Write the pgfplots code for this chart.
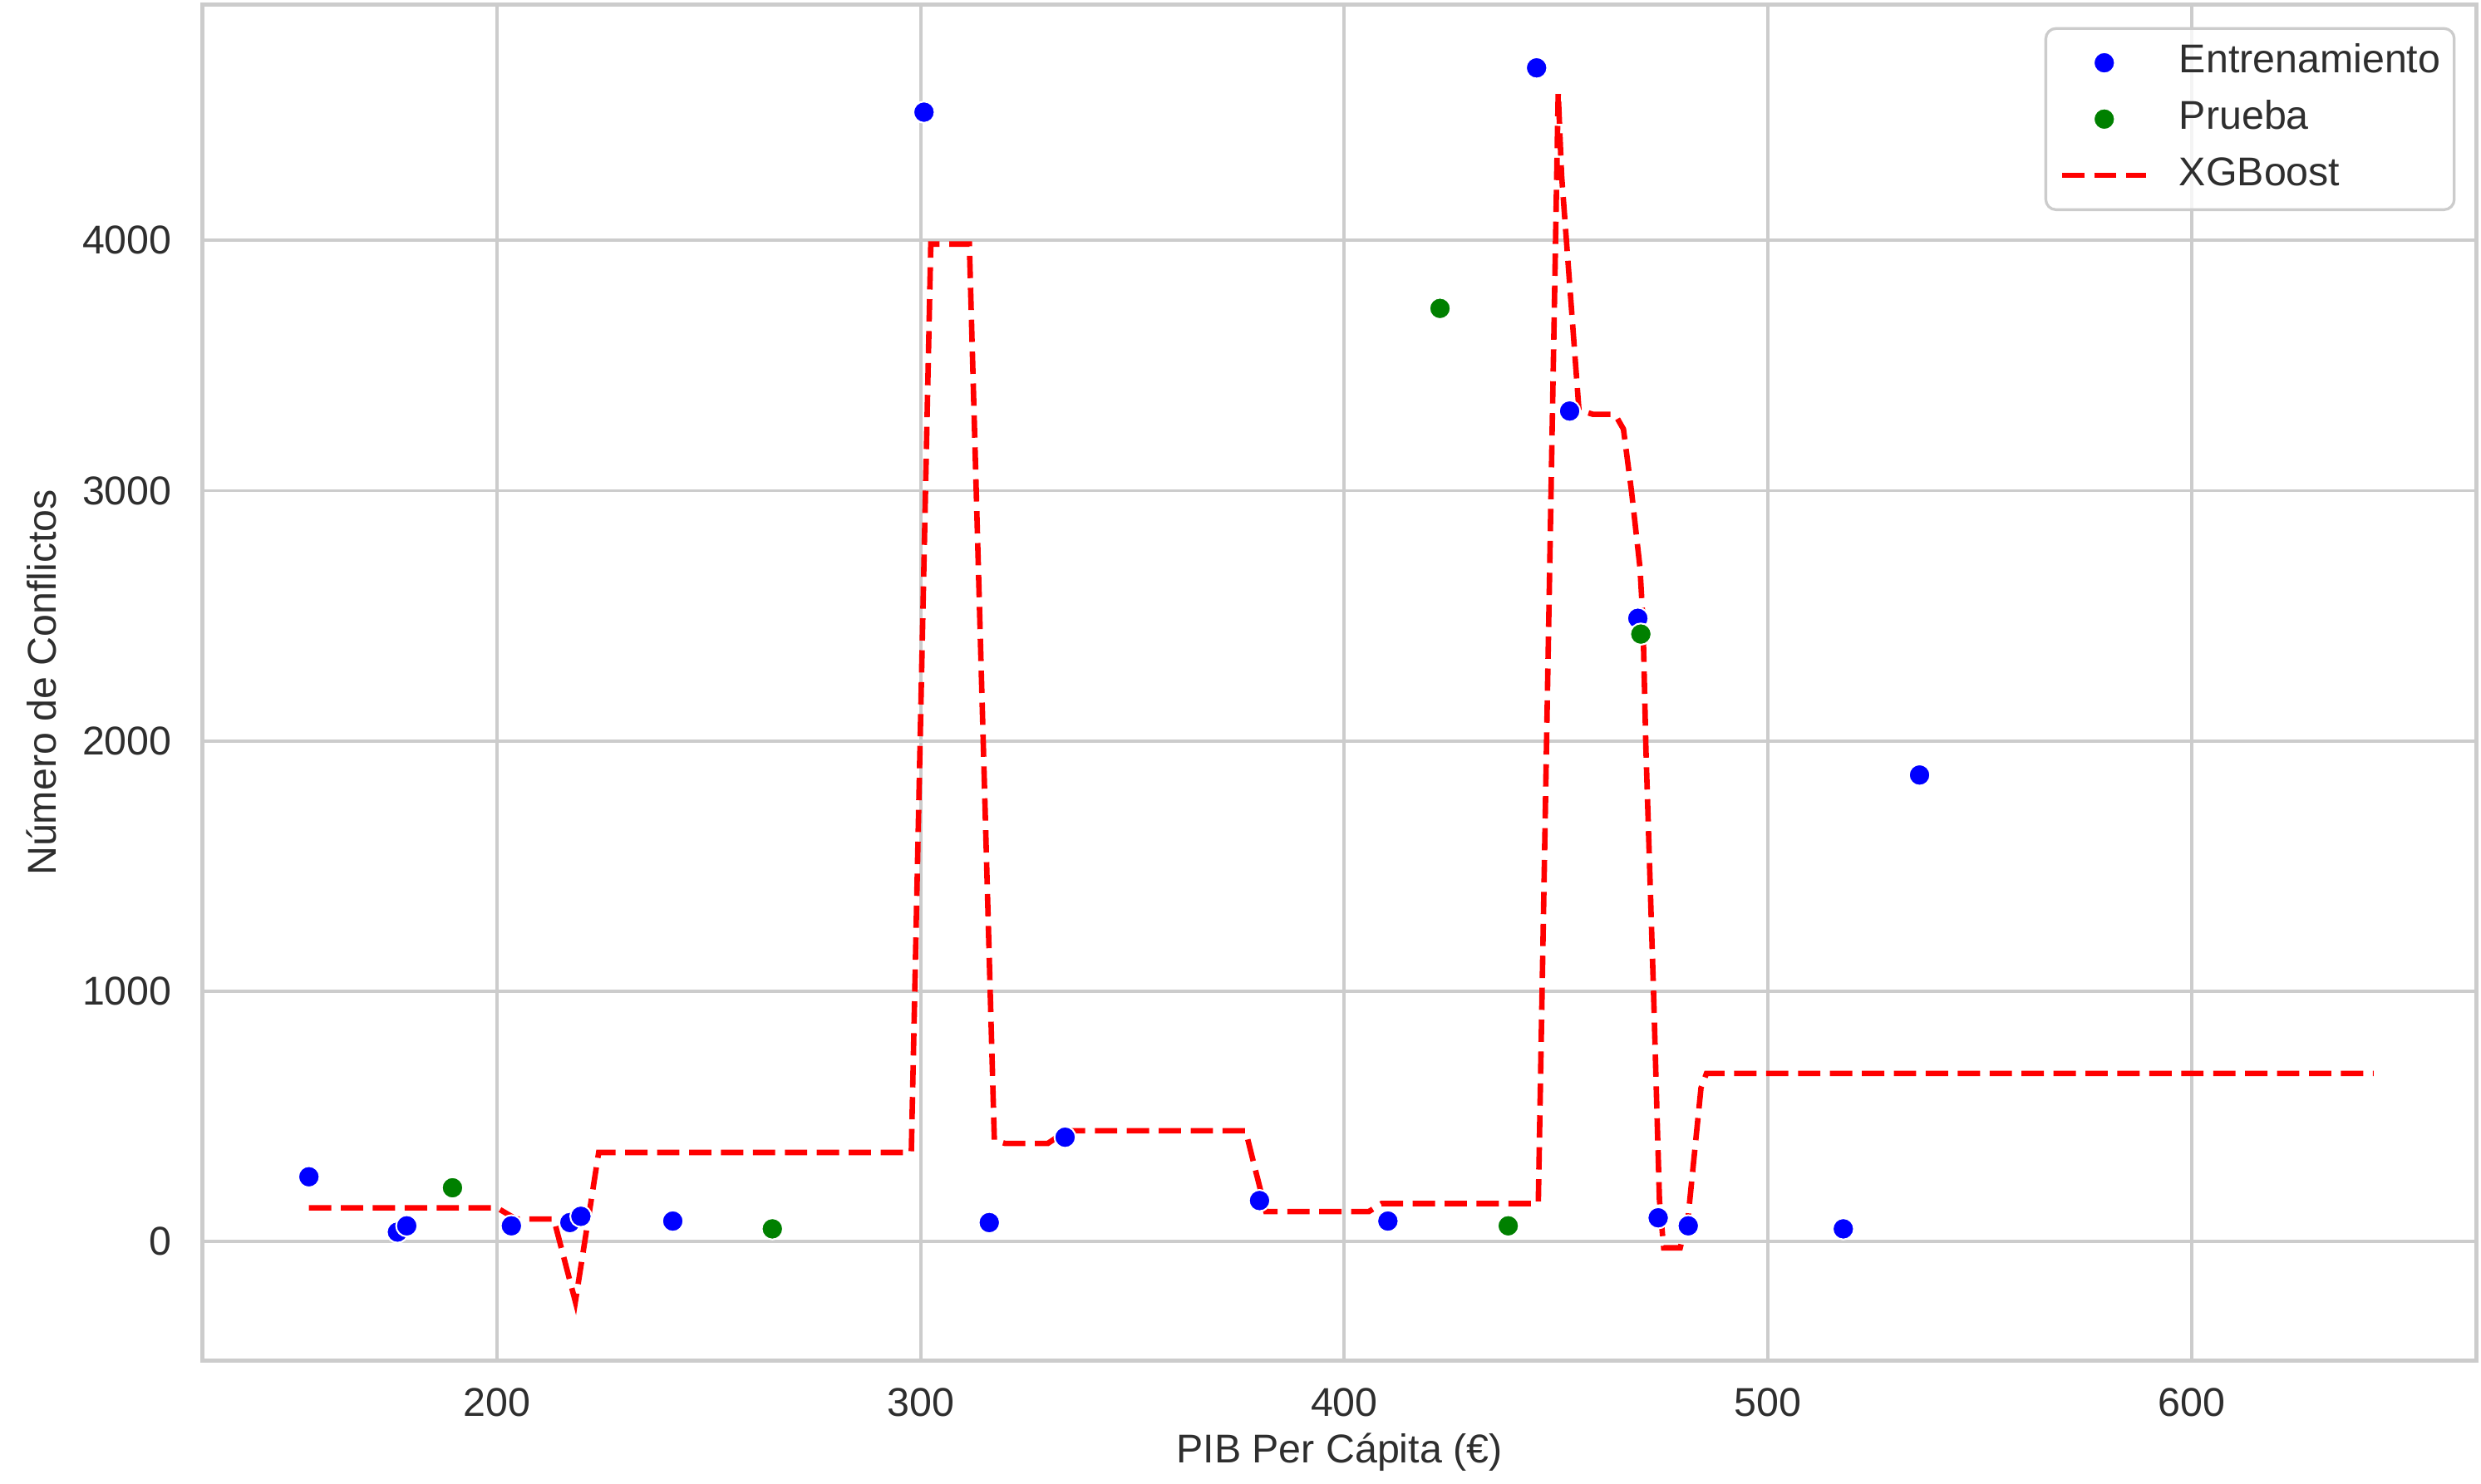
\documentclass[border=0pt]{standalone}
\usepackage{fontspec}
\setmainfont{Liberation Sans}
\usepackage{pgfplots}
\pgfplotsset{compat=1.18}

\definecolor{mplgreen}{RGB}{0,128,0}
\newcommand{\chartfont}{\fontsize{11.7}{14}\selectfont}

\begin{document}
\begin{tikzpicture}
\begin{axis}[
  name=ax,
  scale only axis,
  width=662.2pt, height=394.9pt,
  xmin=130.5, xmax=667.2, ymin=-474, ymax=4941,
  xtick={200,300,400,500,600},
  ytick={0,1000,2000,3000,4000},
  scaled ticks=false,
  /pgf/number format/1000 sep={},
  /pgf/number format/assume math mode=true,
  major tick length=0pt,
  grid=major,
  major grid style={draw=black!20, line width=0.9pt},
  axis line style={draw=black!20, line width=1.2pt},
  tick label style={font=\chartfont, text=black!82, inner sep=0pt},
  xticklabel style={anchor=center, yshift=-12.4pt},
  yticklabel style={anchor=east, xshift=-8.8pt},
  label style={font=\chartfont, text=black!82},
  xlabel={PIB Per Cápita (€)},
  ylabel={Número de Conflictos},
  xlabel style={at={(axis description cs:0.5,-0.0676)}, anchor=center},
  ylabel style={at={(axis description cs:-0.0710,0.5)}, anchor=center},
  legend style={at={(1,1)}, anchor=north east, xshift=-6pt, yshift=-6.5pt,
    draw=black!20, line width=0.8pt, rounded corners=3pt,
    fill=white, fill opacity=0.8, text opacity=1,
    font=\chartfont, text=black!82,
    inner xsep=4pt, inner ysep=4.5pt, row sep=5.4pt, column sep=8.8pt,
    nodes={inner sep=0pt, text height=8.5pt, text depth=2.5pt}},
  legend cell align=left,
  legend image code/.code={\draw[mark repeat=2, mark phase=2, #1]
    plot coordinates {(0cm,0cm) (0.43cm,0cm) (0.86cm,0cm)};},
  legend image post style={fill opacity=1},
]
% training points
\addplot[only marks, mark=*, mark size=3.1pt,
  mark options={fill=blue, draw=white, line width=0.5pt}] coordinates {
  (155.6,259) (176.5,38) (178.7,63) (203.4,63) (217.2,76) (219.8,101)
  (241.5,82) (300.8,4512) (316.2,76) (334.1,417) (380.0,164) (410.3,82)
  (445.4,4689) (453.2,3318) (469.3,2490) (474.1,95) (481.2,63)
  (517.8,51) (535.8,1864)
};
\addlegendentry{Entrenamiento}
% test points
\addplot[only marks, mark=*, mark size=3.1pt,
  mark options={fill=mplgreen, draw=white, line width=0.5pt}] coordinates {
  (189.5,215) (265.0,51) (422.6,3728) (438.7,63) (470.0,2427)
};
\addlegendentry{Prueba}
% model prediction
\addplot[red, line width=1.6pt, dash pattern=on 6.5pt off 2.8pt, mark=none] coordinates {
  (155.6,135) (200.0,135) (204.5,90) (213.4,90) (218.5,-240) (224.0,356)
  (297.8,356) (302.4,3985) (311.5,3985) (317.4,405) (320.0,392) (330.0,392)
  (334.5,443) (376.7,443) (381.5,120) (405.8,120) (408.8,152) (445.8,152)
  (450.5,4589) (451.3,4260) (455.4,3322) (458.7,3305) (463.9,3305)
  (465.9,3246) (467.8,2998) (469.8,2693) (470.5,2483) (471.2,1972)
  (473.0,1000) (474.4,166) (475.4,-25) (479.3,-25) (481.2,104)
  (484.2,613) (485.5,672) (643.0,672)
};
\addlegendentry{XGBoost}
\end{axis}
\path ([shift={(-59pt,-35.9pt)}]ax.south west) rectangle ([shift={(1.4pt,1.4pt)}]ax.north east);
\end{tikzpicture}
\end{document}
